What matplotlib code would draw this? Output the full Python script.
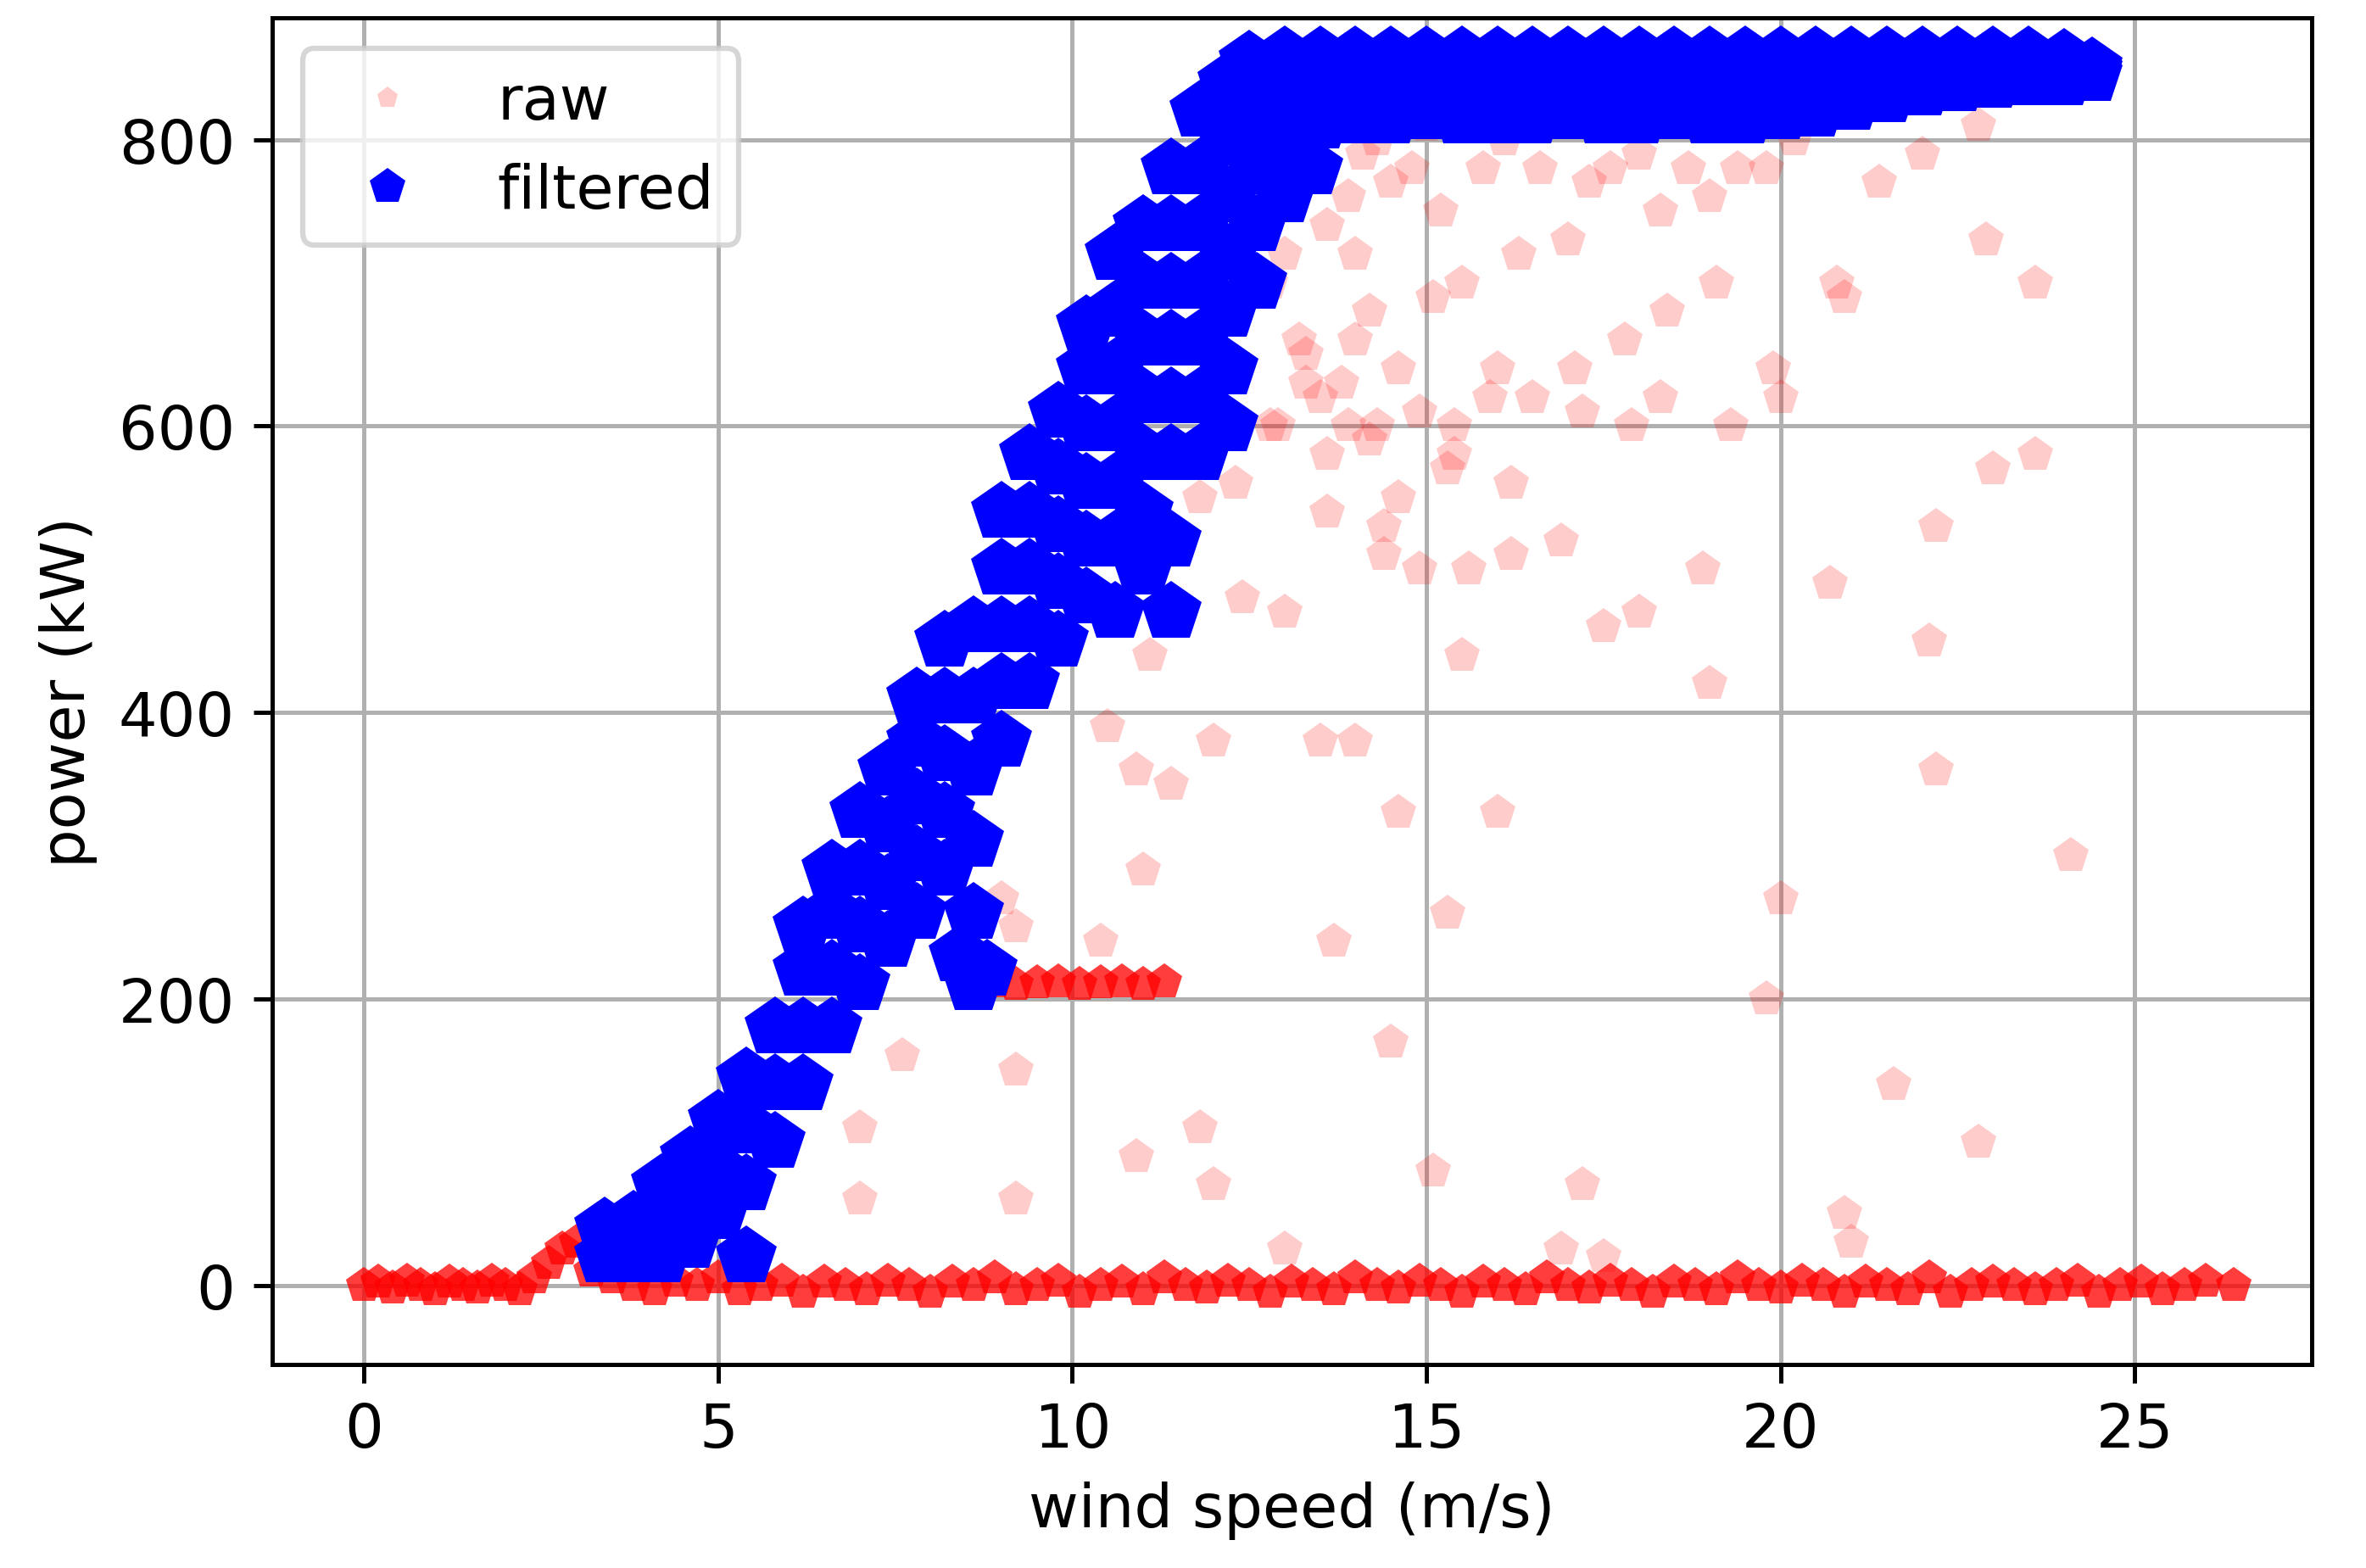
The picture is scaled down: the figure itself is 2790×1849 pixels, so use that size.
import matplotlib.pyplot as plt

# raw points: zero-power band
zero_x = [0.0, 0.2, 0.4, 0.6, 0.8, 1.0, 1.2, 1.4, 1.6, 1.8, 2.0, 2.2, 2.4, 2.6, 2.8, 3.0,
          3.2, 3.5, 3.8, 4.1, 4.4, 4.7, 5.0, 5.3, 5.6, 5.9, 6.2, 6.5, 6.8, 7.1, 7.4, 7.7,
          8.0, 8.3, 8.6, 8.9, 9.2, 9.5, 9.8, 10.1, 10.4, 10.7, 11.0, 11.3, 11.6, 11.9,
          12.2, 12.5, 12.8, 13.1, 13.4, 13.7, 14.0, 14.3, 14.6, 14.9, 15.2, 15.5, 15.8,
          16.1, 16.4, 16.7, 17.0, 17.3, 17.6, 17.9, 18.2, 18.5, 18.8, 19.1, 19.4, 19.7,
          20.0, 20.3, 20.6, 20.9, 21.2, 21.5, 21.8, 22.1, 22.4, 22.7, 23.0, 23.3, 23.6,
          23.9, 24.2, 24.5, 24.8, 25.1, 25.4, 25.7, 26.0, 26.4]
zero_y = [0, 2, -2, 3, 0, -3, 2, 0, -2, 3, 0, -3, 5, 15, 25, 30,
          10, 5, 0, -3, 3, 0, 5, -3, 0, 3, -5, 2, 0, -3, 3, 0,
          -5, 2, 0, 5, -3, 0, 3, -5, 0, 2, -3, 5, 0, -2,
          3, 0, -5, 2, 0, -3, 5, 0, -2, 3, 0, -5, 2,
          0, -3, 5, 0, -2, 3, 0, -5, 2, 0, -3, 5, 0,
          -2, 3, 0, -5, 2, 0, -3, 5, -5, 0, 2, 0,
          -3, 0, 3, -5, 0, 2, -3, 0, 3, 0]

# raw points: 200 kW plateau
shelf_x = [8.6, 8.9, 9.2, 9.5, 9.8, 10.1, 10.4, 10.7, 11.0, 11.3]
shelf_y = [210, 212, 210, 211, 212, 210, 211, 212, 210, 212]

# raw points: scattered outliers
out_x = [12.8, 13.0, 13.3, 13.6, 13.9, 14.1, 14.3, 14.5, 14.0, 14.8, 15.0, 15.2, 15.5,
         15.8, 16.1, 16.3, 16.6, 17.0, 17.3, 17.6, 18.0, 18.3, 18.7, 19.0, 19.4,
         19.8, 20.2, 20.8, 21.4, 22.0, 22.8, 23.6, 13.2, 13.8, 14.2, 14.6, 15.1, 15.4,
         16.0, 16.5, 17.1, 17.8, 18.4, 19.1, 19.9, 20.9, 22.9, 23.6, 12.3, 12.8, 13.5,
         14.2, 14.9, 15.3, 16.2, 17.2, 17.9, 18.3, 19.3, 20.0, 20.7, 22.2, 23.0, 24.1,
         11.2, 11.8, 12.4, 13.0, 13.6, 14.4, 15.6, 16.9, 17.5, 18.0, 18.9, 22.1,
         10.5, 10.9, 11.1, 11.4, 12.0, 13.5, 14.0, 14.6, 15.5, 16.0, 19.0, 22.2,
         9.0, 9.2, 10.4, 11.0, 13.7, 14.5, 15.3, 19.8, 20.0, 7.6, 7.0, 7.0, 9.2, 9.2,
         10.9, 11.8, 12.0, 15.1, 17.2, 20.9, 21.6, 22.8, 21.0, 13.0, 16.9, 17.5,
         14.0, 14.3, 14.6, 14.9, 15.4, 15.9, 16.2, 12.9, 13.3, 13.6, 13.9, 14.4]
out_y = [700, 720, 650, 740, 760, 790, 800, 770, 720, 780, 810, 750, 700,
         780, 800, 720, 780, 730, 770, 780, 790, 750, 780, 760, 780,
         780, 800, 700, 770, 790, 810, 700, 660, 630, 680, 640, 690, 600,
         640, 620, 640, 660, 680, 700, 640, 690, 730, 580, 560, 600, 620,
         590, 610, 570, 560, 610, 600, 620, 600, 620, 490, 530, 570, 300,
         520, 550, 480, 470, 540, 530, 500, 520, 460, 470, 500, 450,
         390, 360, 440, 350, 380, 380, 380, 330, 440, 330, 420, 360,
         270, 250, 240, 290, 240, 170, 260, 200, 270, 160, 110, 60, 150, 60,
         90, 110, 70, 80, 70, 50, 140, 100, 30, 25, 25, 20,
         660, 600, 550, 500, 580, 620, 510, 600, 630, 580, 600, 510]

# filtered points: main power-curve band (read column by column)
filt_x = [3.4, 3.4, 3.8, 3.8, 4.2, 4.2, 4.2, 4.6, 4.6, 4.6, 5.0, 5.0, 5.0,
          5.4, 5.4, 5.4, 5.8, 5.8, 5.8,
          6.2, 6.2, 6.2, 6.2, 6.6, 6.6, 6.6, 6.6, 7.0, 7.0, 7.0, 7.0,
          7.4, 7.4, 7.4, 7.4, 7.8, 7.8, 7.8, 7.8, 7.8,
          8.2, 8.2, 8.2, 8.2, 8.2, 8.6, 8.6, 8.6, 8.6, 8.6, 8.6,
          9.0, 9.0, 9.0, 9.0, 9.0, 9.4, 9.4, 9.4, 9.4, 9.4,
          9.8, 9.8, 9.8, 9.8, 9.8, 10.2, 10.2, 10.2, 10.2, 10.2, 10.2,
          10.6, 10.6, 10.6, 10.6, 10.6, 10.6, 10.6,
          11.0, 11.0, 11.0, 11.0, 11.0, 11.0, 11.0,
          11.4, 11.4, 11.4, 11.4, 11.4, 11.4, 11.4, 11.4,
          11.8, 11.8, 11.8, 11.8, 11.8, 11.8, 11.8,
          12.2, 12.2, 12.2, 12.2, 12.2, 12.2, 12.2,
          12.6, 12.6, 12.6, 12.6, 12.6, 13.0, 13.0, 13.0, 13.0, 13.4, 13.4, 13.4,
          5.4, 3.6, 4.0, 8.4, 8.8]
filt_y = [20, 40, 20, 45, 20, 50, 70, 30, 60, 90, 50, 80, 115,
          70, 110, 145, 100, 140, 180,
          140, 180, 220, 250, 180, 220, 260, 290, 210, 250, 290, 330,
          240, 280, 320, 360, 260, 300, 340, 380, 410,
          290, 330, 370, 410, 450, 210, 260, 310, 360, 410, 460,
          380, 420, 460, 500, 540, 420, 460, 500, 540, 580,
          450, 490, 530, 570, 610, 480, 520, 560, 600, 640, 670,
          470, 520, 560, 600, 640, 680, 720,
          500, 540, 580, 620, 660, 700, 740,
          470, 520, 580, 620, 660, 700, 740, 780,
          580, 620, 660, 700, 740, 780, 820,
          600, 640, 680, 720, 760, 800, 840,
          700, 740, 780, 820, 850, 760, 800, 840, 855, 780, 820, 850,
          20, 30, 35, 230, 220]

# filtered points: rated-power plateau
plat_x = [12.5, 13.0, 13.5, 14.0, 14.5, 15.0, 15.5, 16.0, 16.5, 17.0, 17.5, 18.0,
          18.5, 19.0, 19.5, 20.0, 20.5, 21.0, 21.5, 22.0, 22.5, 23.0, 23.5, 24.0, 24.4]
plat_top = [855, 858, 858, 858, 858, 858, 858, 858, 858, 858, 858, 858,
            858, 858, 858, 858, 858, 858, 858, 858, 858, 858, 858, 856, 850]
plat_mid = [840, 840, 835, 835, 835, 835, 835, 835, 835, 835, 835, 835,
            835, 835, 835, 835, 835, 835, 838, 840, 842, 845, 848, 848, 848]
plat_low = [815, 815, 812, 815, 815, 818, 815, 815, 815, 818, 815, 815,
            818, 815, 815, 818, 820, 825, 830, 835, 838, 840, 842, 842, 845]

plt.rcParams['font.size'] = 11.5
fig = plt.figure(figsize=(6.2, 4.111), dpi=450)
ax = fig.add_axes([0.115, 0.13, 0.862, 0.858])

raw_x = zero_x + shelf_x + out_x + filt_x
raw_y = zero_y + shelf_y + out_y + filt_y
ax.plot(raw_x, raw_y, 'p', color='red', alpha=0.2, markersize=7,
        markeredgewidth=0, label='raw')
ax.plot(zero_x, zero_y, 'p', color='red', markersize=7, markeredgewidth=0, alpha=0.7)
ax.plot(shelf_x, shelf_y, 'p', color='red', markersize=7, markeredgewidth=0, alpha=0.7)

all_fx = filt_x + plat_x * 3
all_fy = filt_y + plat_top + plat_mid + plat_low
ax.plot(all_fx, all_fy, 'p', color='blue', markersize=12, markeredgewidth=0,
        label='filtered')

ax.set_xlim(-1.3, 27.5)
ax.set_ylim(-55, 885)
ax.set_xticks([0, 5, 10, 15, 20, 25])
ax.set_yticks([0, 200, 400, 600, 800])
ax.grid(True)
ax.set_axisbelow(True)
ax.set_xlabel('wind speed (m/s)')
ax.set_ylabel('power (kW)')
ax.legend(loc='upper left', markerscale=0.6)

plt.savefig('out.png')
